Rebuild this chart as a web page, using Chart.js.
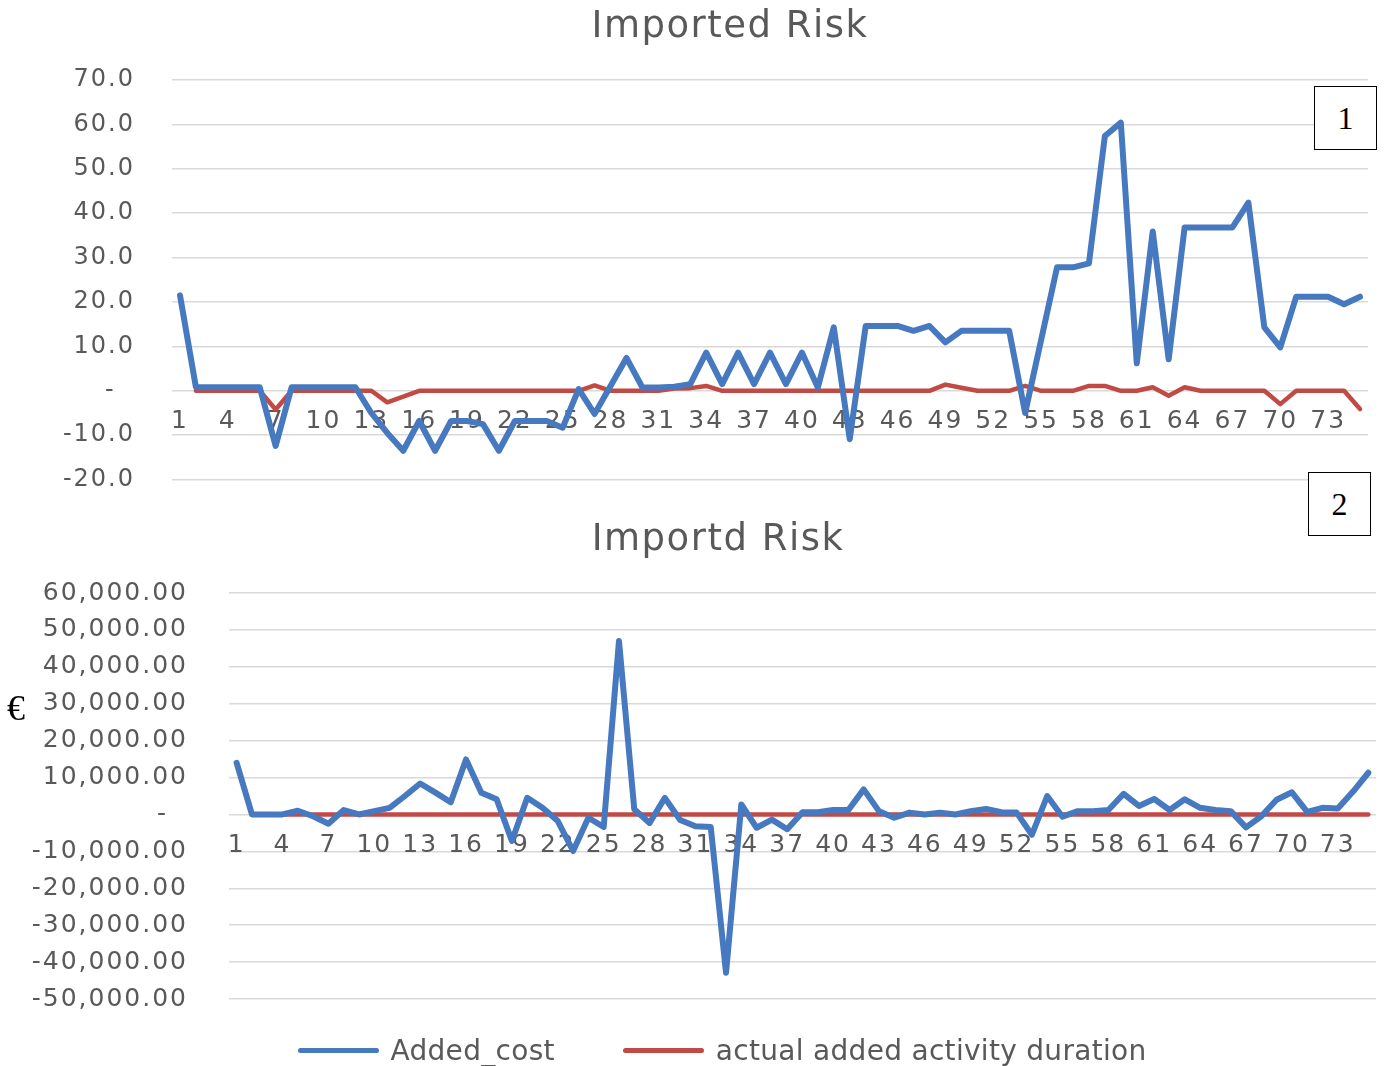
<!DOCTYPE html>
<html>
<head>
<meta charset="utf-8">
<script src="https://cdn.jsdelivr.net/npm/chart.js@4.4.1/dist/chart.umd.min.js"></script>
<style>
  html, body { margin: 0; padding: 0; background: #ffffff; overflow: hidden; }
  body { width: 1386px; height: 1066px; position: relative; font-family: "DejaVu Sans", sans-serif; }
  .panel { position: absolute; left: 0; width: 1386px; }
  #top { top: 0; height: 531px; }
  #bottom { top: 505px; height: 550px; }
  .tag {
    position: absolute; width: 61px; height: 62px; border: 1.5px solid #000;
    font-family: "Liberation Serif", "Times New Roman", serif; font-size: 32px;
    display: flex; align-items: center; justify-content: center; background: #fff; color: #000;
  }
  #euro {
    position: absolute; left: 7px; top: 686px; font-family: "Liberation Serif", serif;
    font-size: 36px; color: #000; line-height: 44px;
  }
  #legend {
    position: absolute; left: 58px; width: 1328px; top: 1030px; height: 40px;
    display: flex; justify-content: center; align-items: center; gap: 68px;
    font-family: "DejaVu Sans", sans-serif; font-size: 28px; color: #595959; letter-spacing: 0.3px;
  }
  #legend .item { display: flex; align-items: center; }
  #legend .swatch { width: 81px; height: 5px; border-radius: 3px; margin-right: 12px; }
</style>
</head>
<body>
<div class="panel" id="top"><canvas id="riskDays"></canvas></div>
<div class="panel" id="bottom"><canvas id="riskCost"></canvas></div>
<div class="tag" style="left:1314px; top:86px;">1</div>
<div class="tag" style="left:1308px; top:472px;">2</div>
<div id="euro">€</div>
<div id="legend"></div>
<script>
// Activity numbers 1..75
const activities = Array.from({length: 75}, (_, i) => String(i + 1));

const seriesNames = ['Added_cost', 'actual added activity duration'];

// Panel 1 – imported risk
const riskAdded = [
  21.5, 0.8, 0.8, 0.8, 0.8, 0.8, -12.4, 0.8, 0.8, 0.8,
  0.8, 0.8, -5, -9.5, -13.5, -6.8, -13.5, -6.8, -6.8, -7.5,
  -13.5, -6.8, -6.8, -6.8, -8.3, 0.4, -5.2, 1.1, 7.4, 0.75,
  0.75, 0.9, 1.5, 8.6, 1.5, 8.6, 1.5, 8.6, 1.5, 8.6,
  0.75, 14.3, -10.9, 14.6, 14.6, 14.6, 13.5, 14.6, 10.9, 13.5,
  13.5, 13.5, 13.5, -5, 11.4, 27.8, 27.8, 28.7, 57.4, 60.4,
  6.2, 35.9, 7.1, 36.8, 36.8, 36.8, 36.8, 42.4, 14.3, 9.8,
  21.2, 21.2, 21.2, 19.5, 21.2
];
const riskDuration = [
  null, 0, 0, 0, 0, 0, -4.2, 0, 0, 0,
  0, 0, 0, -2.6, -1.3, 0, 0, 0, 0, 0,
  0, 0, 0, 0, 0, 0, 1.2, 0, 0, 0,
  0, 0.5, 0.6, 1.1, 0, 0, 0, 0, 0, 0,
  0, 0, 0, 0, 0, 0, 0, 0, 1.4, 0.7,
  0, 0, 0, 1.1, 0, 0, 0, 1.1, 1.1, 0,
  0, 0.8, -1.1, 0.8, 0, 0, 0, 0, 0, -3,
  0, 0, 0, 0, -4.1
];

// Panel 2 – imported risk in euro
const costAdded = [
  14000, 0, 0, 0, 1000, -500, -2500, 1200, 0, 900,
  1800, 5000, 8400, 5900, 3300, 14900, 5900, 4100, -7200, 4500,
  1800, -1800, -9900, -900, -3400, 47000, 1400, -2300, 4500, -1500,
  -3200, -3400, -42900, 2700, -3600, -1400, -4000, 600, 600, 1200,
  1200, 6800, 900, -900, 500, 0, 500, 0, 900, 1500,
  600, 500, -5500, 5000, -600, 900, 900, 1200, 5600, 2300,
  4200, 1200, 4100, 1800, 1200, 900, -3500, -500, 4000, 6000,
  700, 1800, 1600, 6200, 11300
];
const costDuration = [null].concat(Array(74).fill(0));

const BLUE = '#4679bf';
const RED = '#c24a45';
const TEXT = '#595959';
const GRID = '#d9d9d9';

// Accounting style: zero shown as a dash, padded on the right
function numberLabel(v, decimals) {
  if (Math.abs(v) < 1e-9) return '-  ';
  return v.toLocaleString('en-US', {minimumFractionDigits: decimals, maximumFractionDigits: decimals});
}

function lineSets(blueData, redData) {
  return [
    { label: seriesNames[0], data: blueData, borderColor: BLUE, backgroundColor: BLUE,
      borderWidth: 6, pointRadius: 0, tension: 0, borderJoinStyle: 'round', borderCapStyle: 'round' },
    { label: seriesNames[1], data: redData, borderColor: RED, backgroundColor: RED,
      borderWidth: 4.5, pointRadius: 0, tension: 0, borderJoinStyle: 'round', borderCapStyle: 'round' }
  ];
}

// Slightly widened axis lettering for the whole canvas
const wideText = {
  id: 'wideText',
  beforeDraw(chart, args, opts) {
    if ('letterSpacing' in chart.ctx) chart.ctx.letterSpacing = opts.spacing;
  }
};

// Panel heading drawn at a given centre point of the canvas
const panelTitle = {
  id: 'panelTitle',
  afterDraw(chart, args, opts) {
    const ctx = chart.ctx;
    ctx.save();
    ctx.font = opts.font;
    ctx.fillStyle = opts.color;
    ctx.textAlign = 'center';
    ctx.textBaseline = 'middle';
    if ('letterSpacing' in ctx) ctx.letterSpacing = opts.spacing;
    ctx.fillText(opts.text, opts.x, opts.y);
    ctx.restore();
  }
};

function buildOptions(cfg) {
  return {
    responsive: true,
    maintainAspectRatio: false,
    animation: false,
    events: [],
    layout: { padding: cfg.padding },
    plugins: {
      legend: { display: false },
      tooltip: { enabled: false },
      title: { display: false },
      wideText: { spacing: '2px' },
      panelTitle: {
        text: cfg.title, x: cfg.titleX, y: cfg.titleY, color: TEXT,
        font: '37px "DejaVu Sans"', spacing: '1.5px'
      }
    },
    scales: {
      x: {
        type: 'category',
        offset: true,
        position: { y: 0 },
        grid: { display: false, drawTicks: false },
        border: { display: false },
        ticks: {
          autoSkip: false, maxRotation: 0, minRotation: 0, padding: cfg.xPad, color: TEXT,
          font: { family: 'DejaVu Sans', size: 25 },
          callback: function (val, idx) { return idx % 3 === 0 ? this.getLabelForValue(val) : ''; }
        }
      },
      y: {
        min: cfg.min, max: cfg.max,
        grid: { color: GRID, lineWidth: 1.5, drawTicks: false },
        border: { display: false },
        ticks: {
          stepSize: cfg.step, padding: cfg.yPad, color: TEXT,
          font: { family: 'DejaVu Sans', size: cfg.yFont },
          callback: v => numberLabel(v, cfg.decimals)
        },
        afterFit: scale => { scale.width = cfg.axisWidth; }
      }
    }
  };
}

// Legend built from the datasets of the chart it is attached to
const htmlLegend = {
  id: 'htmlLegend',
  afterUpdate(chart) {
    const box = document.getElementById('legend');
    box.innerHTML = '';
    chart.data.datasets.forEach(ds => {
      const item = document.createElement('div');
      item.className = 'item';
      const sw = document.createElement('span');
      sw.className = 'swatch';
      sw.style.background = ds.borderColor;
      const txt = document.createElement('span');
      txt.textContent = ds.label;
      item.appendChild(sw);
      item.appendChild(txt);
      box.appendChild(item);
    });
  }
};

new Chart(document.getElementById('riskDays'), {
  type: 'line',
  data: { labels: activities, datasets: lineSets(riskAdded, riskDuration) },
  options: buildOptions({
    title: 'Imported Risk', titleX: 730, titleY: 27,
    min: -20, max: 70, step: 10, decimals: 1,
    padding: { left: 0, right: 18, top: 80, bottom: 22 },
    axisWidth: 172, yPad: 37, xPad: 16, yFont: 24
  }),
  plugins: [wideText, panelTitle]
});

new Chart(document.getElementById('riskCost'), {
  type: 'line',
  data: { labels: activities, datasets: lineSets(costAdded, costDuration) },
  options: buildOptions({
    title: 'Importd Risk', titleX: 718, titleY: 35,
    min: -50000, max: 60000, step: 10000, decimals: 2,
    padding: { left: 0, right: 10, top: 88, bottom: 27 },
    axisWidth: 229, yPad: 41, xPad: 16, yFont: 25
  }),
  plugins: [wideText, panelTitle, htmlLegend]
});
</script>
</body>
</html>
